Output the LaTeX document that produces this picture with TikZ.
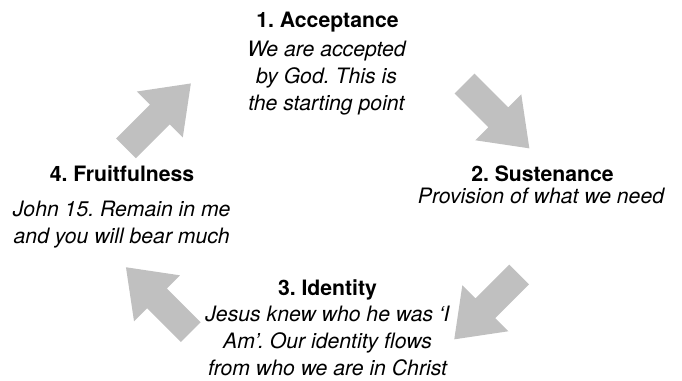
\documentclass[tikz,border=0pt]{standalone}
\usepackage{fontspec}
\setmainfont{TeX Gyre Heros}
\frenchspacing
\definecolor{arrowgray}{RGB}{192,192,192}
\newcommand{\toprule}{\rule{0pt}{17pt}}
\begin{document}
\begin{tikzpicture}[x=1pt,y=-1pt,
  titletext/.style={anchor=base,inner sep=0pt,font=\fontsize{21.2}{26.7}\selectfont\bfseries},
  bodytext/.style={anchor=north,inner sep=0pt,align=center,font=\fontsize{21.2}{26.7}\selectfont\itshape},
  bigarrow/.pic={\fill[arrowgray] (0,14) -- (47.8,14) -- (47.8,32.5) -- (91.7,0) -- (47.8,-32.5) -- (47.8,-14) -- (0,-14) -- cycle;}]
\useasboundingbox (0,0) rectangle (682,380);
% texts (body nodes: north = first baseline - 17)
\node[titletext] (t1) at (327.5,27.3) {1. Acceptance};
\node[bodytext] (b1) at (326.5,39.7) {\toprule We are accepted\\by God. This is\\the starting point};
\node[titletext] (t2) at (542.5,181.7) {2. Sustenance};
\node[bodytext] (b2) at (541,186.3) {\toprule Provision of what we need};
\node[titletext] (t3) at (327.5,295) {3. Identity};
\node[bodytext] (b3) at (327.5,304.7) {\toprule Jesus knew who he was ‘I\\Am’. Our identity flows\\from who we are in Christ};
\node[titletext] (t4) at (122,181.7) {4. Fruitfulness};
\node[bodytext] (b4) at (121.7,199.7) {\toprule John 15. Remain in me\\and you will bear much};
% arrows
\path (126,148.3) pic[rotate=45] (a1) {bigarrow};
\path (464.5,83.5) pic[rotate=-45] (a2) {bigarrow};
\path (519.1,274.5) pic[rotate=-135] (a3) {bigarrow};
\path (190.8,332.1) pic[rotate=135] (a4) {bigarrow};
\end{tikzpicture}
\end{document}
